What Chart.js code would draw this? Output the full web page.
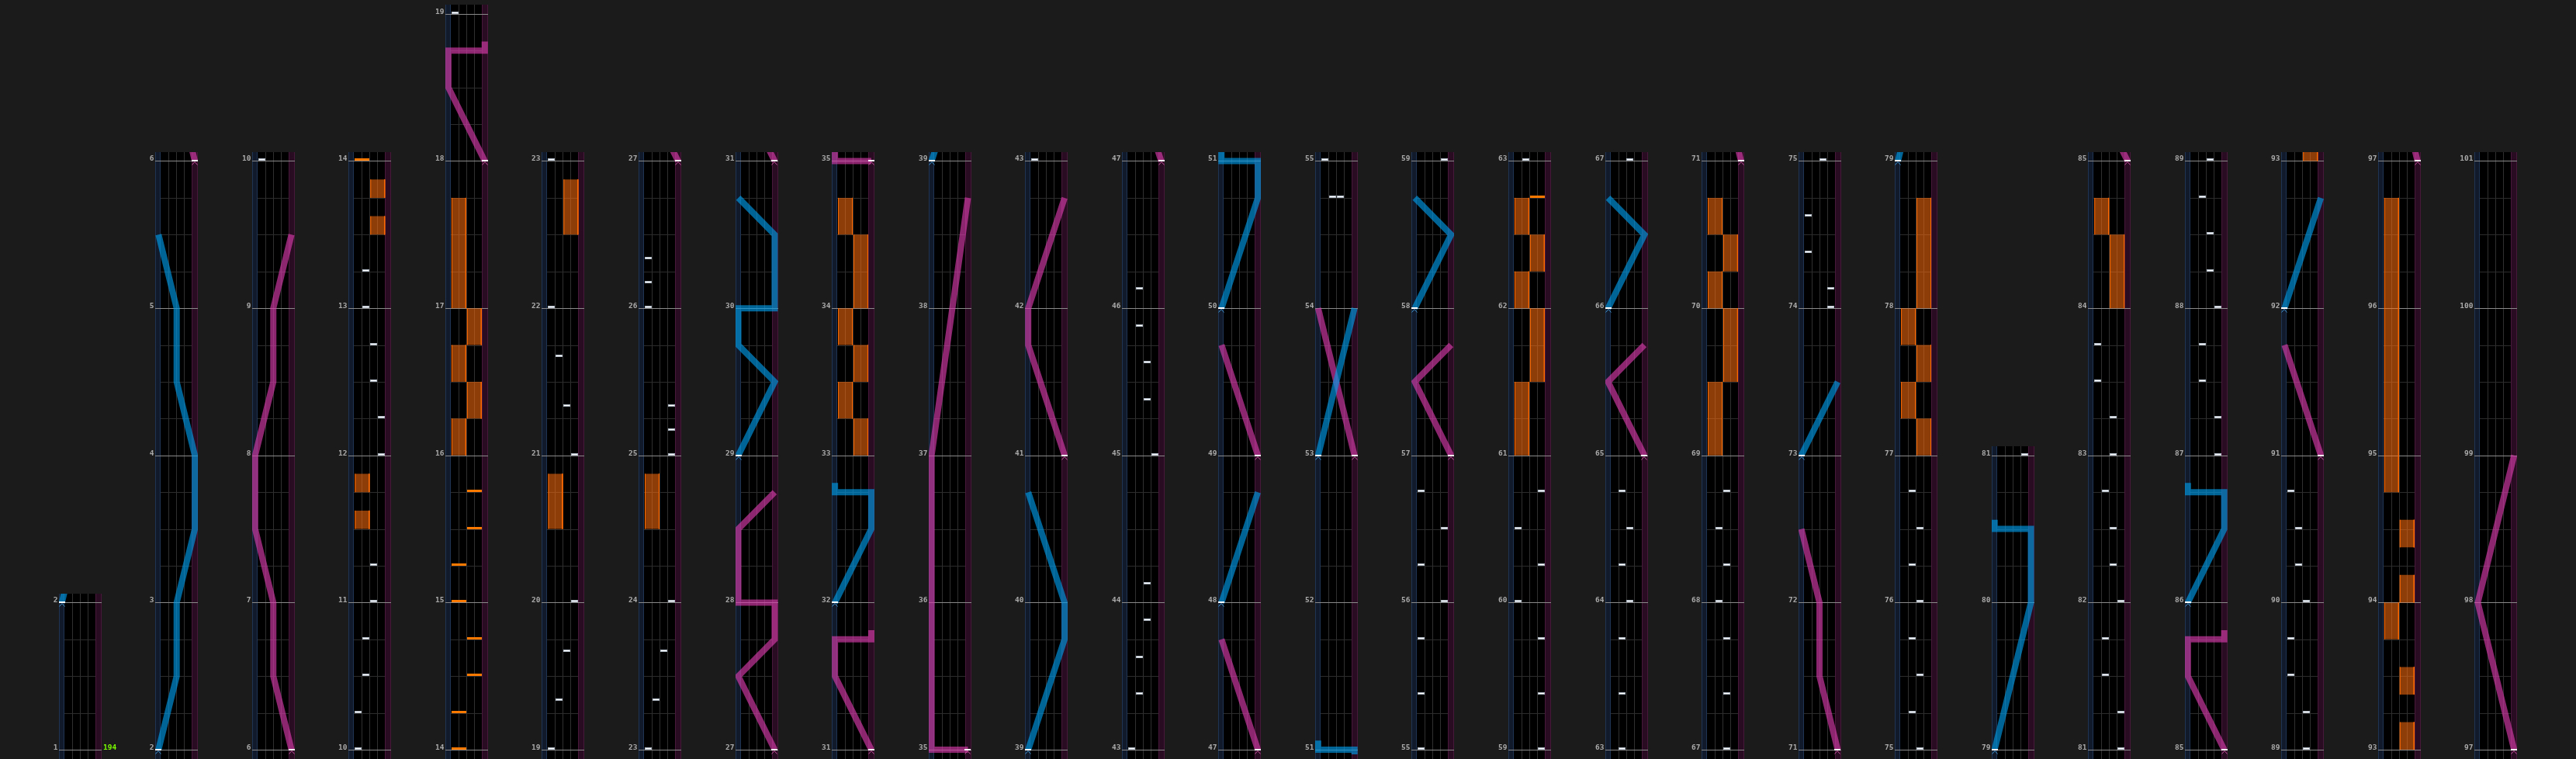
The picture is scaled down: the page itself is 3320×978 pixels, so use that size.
<!DOCTYPE html>
<html>
<head>
<meta charset="utf-8">
<style>
  html, body { margin: 0; padding: 0; background: #1b1b1b; }
  canvas { display: block; }
</style>
<script src="https://cdn.jsdelivr.net/npm/chart.js@4.4.1/dist/chart.umd.min.js"></script>
</head>
<body>
<canvas id="chart" width="3320" height="978"></canvas>
<script>
// columns of the chart view: first measure and number of measures in it
const columnStart    = [1, 2, 6, 10, 14, 19, 23, 27, 31, 35, 39, 43, 47, 51, 55, 59, 63, 67, 71, 75, 79, 81, 85, 89, 93, 97];
const columnMeasures = [1, 4, 4, 4,  5,  4,  4,  4,  4,  4,  4,  4,  4,  4,  4,  4,  4,  4,  4,  4,  2,  4,  4,  4,  4,  4];

// [measure, bpm]
const bpmMarks = [[1, 194]];

// BT chips: [time in measures, lane 0..3]
const btNotes = [
  [10, 0], [10.25, 0], [10.5, 1], [10.75, 1], [11, 2], [11.25, 2],
  [12, 3], [12.25, 3], [12.5, 2], [12.75, 2], [13, 1], [13.25, 1],
  [19, 0], [19.333, 1], [19.667, 2], [20, 3], [21, 3], [21.333, 2], [21.667, 1], [22, 0],
  [23, 0], [23.333, 1], [23.667, 2], [24, 3], [25, 3], [25.167, 3], [25.333, 3],
  [26, 0], [26.167, 0], [26.333, 0],
  [43, 0], [43.375, 1], [43.625, 1], [43.875, 2], [44.125, 2],
  [45, 3], [45.375, 2], [45.625, 2], [45.875, 1], [46.125, 1],
  [54.75, 1], [54.75, 2],
  [55, 0], [55.375, 0], [55.75, 0], [56, 3], [56.25, 0], [56.5, 3], [56.75, 0],
  [59, 3], [59.375, 3], [59.75, 3], [60, 0], [60.25, 3], [60.5, 0], [60.75, 3],
  [63, 1], [63.375, 1], [63.75, 1], [64, 2], [64.25, 1], [64.5, 2], [64.75, 1],
  [67, 2], [67.375, 2], [67.75, 2], [68, 1], [68.25, 2], [68.5, 1], [68.75, 2],
  [74, 3], [74.125, 3], [74.375, 0], [74.625, 0],
  [75, 2], [75.25, 1], [75.5, 2], [75.75, 1], [76, 2], [76.25, 1], [76.5, 2], [76.75, 1],
  [81, 3], [81.25, 3], [81.5, 1], [81.75, 1], [82, 3], [82.25, 2], [82.5, 2], [82.75, 1],
  [83, 2], [83.25, 2], [83.5, 0], [83.75, 0],
  [87, 3], [87.25, 3], [87.5, 1], [87.75, 1], [88, 3], [88.25, 2], [88.5, 2], [88.75, 1],
  [89, 2], [89.25, 2], [89.5, 0], [89.75, 0], [90, 2], [90.25, 1], [90.5, 1], [90.75, 0]
];

// FX chips: [time, side 0 = left, 1 = right]
const fxChips = [
  [14, 0], [14.25, 0], [14.5, 1], [14.75, 1], [15, 0], [15.25, 0], [15.5, 1], [15.75, 1],
  [62.75, 1]
];

// FX holds: [start, end, side]
const fxHolds = [
  [11.5, 11.625, 0], [11.75, 11.875, 0],
  [13.5, 13.625, 1], [13.75, 13.875, 1],
  [16, 16.25, 0], [16.25, 16.5, 1], [16.5, 16.75, 0], [16.75, 17, 1], [17, 17.75, 0],
  [20.5, 20.875, 0], [22.5, 22.875, 1], [24.5, 24.875, 0],
  [33, 33.25, 1], [33.25, 33.5, 0], [33.5, 33.75, 1], [33.75, 34, 0], [34, 34.5, 1], [34.5, 34.75, 0],
  [61, 61.5, 0], [61.5, 62, 1], [62, 62.25, 0], [62.25, 62.5, 1], [62.5, 62.75, 0],
  [69, 69.5, 0], [69.5, 70, 1], [70, 70.25, 0], [70.25, 70.5, 1], [70.5, 70.75, 0],
  [77, 77.25, 1], [77.25, 77.5, 0], [77.5, 77.75, 1], [77.75, 78, 0], [78, 78.75, 1],
  [84, 84.5, 1], [84.5, 84.75, 0],
  [93, 93.1875, 1], [93.375, 93.5625, 1], [93.75, 94, 0], [94, 94.1875, 1],
  [94.375, 94.5625, 1], [94.75, 96.75, 0]
];

// lasers: list of [time, position 0..1]
const blueLasers = [
  [[2, 0], [2.5, 0.5], [3, 0.5], [3.5, 1], [4, 1], [4.5, 0.5], [5, 0.5], [5.5, 0]],
  [[29, 0], [29.5, 1], [29.75, 0], [30, 0], [30, 1], [30.5, 1], [30.75, 0]],
  [[32, 0], [32.5, 1], [32.75, 1], [32.75, 0], [32.8125, 0]],
  [[39, 0], [39.75, 1], [40, 1], [40.75, 0]],
  [[48, 0], [48.75, 1]],
  [[50, 0], [50.75, 1], [51, 1], [51, 0], [51.0625, 0]],
  [[53, 0], [54, 1]],
  [[58, 0], [58.5, 1], [58.75, 0]],
  [[66, 0], [66.5, 1], [66.75, 0]],
  [[73, 0], [73.5, 1]],
  [[79, 0], [80, 1], [80.5, 1], [80.5, 0], [80.5625, 0]],
  [[86, 0], [86.5, 1], [86.75, 1], [86.75, 0], [86.8125, 0]],
  [[92, 0], [92.75, 1]]
];
const pinkLasers = [
  [[6, 1], [6.5, 0.5], [7, 0.5], [7.5, 0], [8, 0], [8.5, 0.5], [9, 0.5], [9.5, 1]],
  [[18, 1], [18.5, 0], [18.75, 0], [18.75, 1], [18.8125, 1]],
  [[27, 1], [27.5, 0], [27.75, 1], [28, 1], [28, 0], [28.5, 0], [28.75, 1]],
  [[31, 1], [31.5, 0], [31.75, 0], [31.75, 1], [31.8125, 1]],
  [[35, 1], [35, 0], [37, 0], [38.75, 1]],
  [[41, 1], [41.75, 0], [42, 0], [42.75, 1]],
  [[47, 1], [47.75, 0]],
  [[49, 1], [49.75, 0]],
  [[53, 1], [54, 0]],
  [[57, 1], [57.5, 0], [57.75, 1]],
  [[65, 1], [65.5, 0], [65.75, 1]],
  [[71, 1], [71.5, 0.5], [72, 0.5], [72.5, 0]],
  [[85, 1], [85.5, 0], [85.75, 0], [85.75, 1], [85.8125, 1]],
  [[91, 1], [91.75, 0]],
  [[97, 1], [98, 0], [99, 1]]
];

// layout (pixels)
const PITCH = 125, COL_W = 55, LEFT_MARGIN = 70;
const MEASURE_PX = 192, BOTTOM_MARGIN = 6, CANVAS_W = 3320, CANVAS_H = 978;
const LANE_W = 10, TOP_EXTRA = 1 / 16;

const colX = (c, px) => c + px / PITCH;
const laserX = (c, pos) => colX(c, 4 + 47 * pos);
const laneX = (c, lane) => colX(c, 12.5 + LANE_W * lane);
const fxX = (c, side) => colX(c, 17.5 + 2 * LANE_W * side);

function sprite(w, h, draw) {
  const cv = document.createElement('canvas');
  cv.width = w;
  cv.height = h;
  draw(cv.getContext('2d'));
  return cv;
}
const btSprite = sprite(9, 10, g => {
  g.fillStyle = '#aeb8c4';
  g.fillRect(0, 2, 9, 3);
  g.fillStyle = '#ffffff';
  g.fillRect(1, 3, 7, 1);
});
const fxSprite = sprite(19, 8, g => {
  g.fillStyle = '#ff7800';
  g.fillRect(0, 1, 19, 3);
});
const startSprite = color => sprite(10, 12, g => {
  g.fillStyle = '#ffffff';
  g.fillRect(1, 5, 8, 2);
  g.strokeStyle = color;
  g.lineWidth = 1;
  g.beginPath();
  g.moveTo(1.5, 11.5);
  g.lineTo(5, 7.5);
  g.lineTo(8.5, 11.5);
  g.stroke();
});
const blueStart = startSprite('#3f93cc');
const pinkStart = startSprite('#c4519e');

const inWindow = (c, t0, t1) => {
  const s = columnStart[c], n = columnMeasures[c];
  return t1 >= s - 0.04 && t0 <= s + n + 0.07;
};

const datasets = [];
columnStart.forEach((s, c) => {
  // lasers
  [[blueLasers, 'rgba(0,155,230,0.65)', blueStart], [pinkLasers, 'rgba(215,60,170,0.65)', pinkStart]]
    .forEach(([lasers, color, marker]) => {
      const pts = [], starts = [];
      lasers.forEach(laser => {
        if (!inWindow(c, laser[0][0], laser[laser.length - 1][0])) return;
        if (pts.length) pts.push({x: c, y: null});
        laser.forEach(([t, pos]) => pts.push({x: laserX(c, pos), y: t - s}));
        starts.push({x: laserX(c, laser[0][1]), y: laser[0][0] - s});
      });
      if (!pts.length) return;
      datasets.push({
        type: 'line', column: c, data: pts, order: 2,
        borderColor: color, borderWidth: 8, borderJoinStyle: 'miter',
        pointRadius: 0, tension: 0, spanGaps: false, fill: false
      });
      datasets.push({
        type: 'scatter', column: c, data: starts, order: 0,
        pointStyle: marker, pointRadius: 5, pointHoverRadius: 5
      });
    });

  // fx holds
  const fills = [], edges = [];
  fxHolds.forEach(([t0, t1, side]) => {
    if (!inWindow(c, t0, t1)) return;
    const xc = fxX(c, side);
    const xl = colX(c, 8.5 + 2 * LANE_W * side), xr = colX(c, 26.5 + 2 * LANE_W * side);
    if (fills.length) {
      fills.push({x: xc, y: null});
      edges.push({x: xl, y: null});
    }
    fills.push({x: xc, y: t0 - s}, {x: xc, y: t1 - s});
    edges.push({x: xl, y: t0 - s}, {x: xl, y: t1 - s}, {x: xl, y: null},
               {x: xr, y: t1 - s}, {x: xr, y: t0 - s});
  });
  if (fills.length) {
    datasets.push({
      type: 'line', column: c, data: fills, order: 4,
      borderColor: 'rgba(255,112,15,0.55)', borderWidth: 19, borderCapStyle: 'butt',
      pointRadius: 0, tension: 0, spanGaps: false, fill: false
    });
    datasets.push({
      type: 'line', column: c, data: edges, order: 3,
      borderColor: '#ff6a00', borderWidth: 1,
      pointRadius: 0, tension: 0, spanGaps: false, fill: false
    });
  }

  // chips
  const fxPts = fxChips.filter(([t]) => inWindow(c, t, t)).map(([t, side]) => ({x: fxX(c, side), y: t - s}));
  if (fxPts.length) {
    datasets.push({type: 'scatter', column: c, data: fxPts, order: 1,
      pointStyle: fxSprite, pointRadius: 5, pointHoverRadius: 5});
  }
  const btPts = btNotes.filter(([t]) => inWindow(c, t, t)).map(([t, lane]) => ({x: laneX(c, lane), y: t - s}));
  if (btPts.length) {
    datasets.push({type: 'scatter', column: c, data: btPts, order: 1,
      pointStyle: btSprite, pointRadius: 5, pointHoverRadius: 5});
  }
});

function columnBox(chart, c) {
  const {x, y} = chart.scales;
  const left = Math.round(x.getPixelForValue(c));
  const top = Math.round(y.getPixelForValue(columnMeasures[c] + TOP_EXTRA));
  return {left, top, bottom: chart.height};
}

// draws the columns, lanes and measure grid before the notes
const gridPlugin = {
  id: 'columnGrid',
  beforeDraw(chart) {
    const ctx = chart.ctx;
    ctx.save();
    ctx.fillStyle = '#1b1b1b';
    ctx.fillRect(0, 0, chart.width, chart.height);
    ctx.restore();
  },
  beforeDatasetsDraw(chart) {
    const {ctx, scales: {y}} = chart;
    ctx.save();
    ctx.imageSmoothingEnabled = false;
    columnStart.forEach((s, c) => {
      const n = columnMeasures[c];
      const {left, top, bottom} = columnBox(chart, c);
      const h = bottom - top;
      ctx.fillStyle = '#000';
      ctx.fillRect(left, top, COL_W, h);
      // laser tracks
      ctx.fillStyle = '#101a2b';
      ctx.fillRect(left, top, 7, h);
      ctx.fillStyle = '#1f3452';
      ctx.fillRect(left, top, 1, h);
      ctx.fillRect(left + 6, top, 1, h);
      ctx.fillStyle = '#290c21';
      ctx.fillRect(left + 47, top, 8, h);
      ctx.fillStyle = '#48183a';
      ctx.fillRect(left + 47, top, 1, h);
      ctx.fillRect(left + 54, top, 1, h);
      // lane dividers
      ctx.fillStyle = '#303030';
      for (let k = 1; k < 4; k++) ctx.fillRect(left + 7 + LANE_W * k, top, 1, h);
      // beat lines
      for (let q = 0; q <= n * 4; q++) {
        const py = Math.round(y.getPixelForValue(q / 4));
        if (q % 4 === 0) {
          ctx.fillStyle = '#8a8a8a';
          ctx.fillRect(left, py, COL_W, 1);
        } else {
          ctx.fillStyle = '#2c2c2c';
          ctx.fillRect(left + 7, py, 4 * LANE_W, 1);
        }
      }
    });
    ctx.restore();
  },
  afterDatasetsDraw(chart) {
    const {ctx, scales: {y}} = chart;
    ctx.save();
    ctx.font = 'bold 9.5px "DejaVu Sans Mono", monospace';
    ctx.textBaseline = 'alphabetic';
    columnStart.forEach((s, c) => {
      const {left} = columnBox(chart, c);
      ctx.fillStyle = '#aaaaaa';
      ctx.textAlign = 'right';
      for (let m = 0; m <= columnMeasures[c]; m++) {
        const py = Math.round(y.getPixelForValue(m));
        ctx.fillText(String(s + m), left - 1.5, py);
      }
      bpmMarks.forEach(([measure, bpm]) => {
        if (measure < s || measure >= s + columnMeasures[c]) return;
        ctx.fillStyle = '#7cfc00';
        ctx.textAlign = 'left';
        ctx.fillText(String(bpm), left + COL_W + 2, Math.round(y.getPixelForValue(measure - s)));
      });
    });
    ctx.restore();
  }
};

// each dataset belongs to one column and is clipped to it
const columnClip = {
  id: 'columnClip',
  beforeDatasetDraw(chart, args) {
    const ds = chart.data.datasets[args.index];
    const ctx = chart.ctx;
    const {left, top, bottom} = columnBox(chart, ds.column);
    ctx.save();
    ctx.imageSmoothingEnabled = false;
    ctx.beginPath();
    ctx.rect(left, top, COL_W, bottom - top);
    ctx.clip();
  },
  afterDatasetDraw(chart) {
    chart.ctx.restore();
  }
};

new Chart(document.getElementById('chart'), {
  type: 'scatter',
  data: { datasets },
  options: {
    responsive: false,
    devicePixelRatio: 1,
    animation: false,
    events: [],
    layout: { padding: 0 },
    scales: {
      x: { type: 'linear', display: false,
           min: -LEFT_MARGIN / PITCH, max: (CANVAS_W - LEFT_MARGIN) / PITCH },
      y: { type: 'linear', display: false, stacked: false,
           min: -BOTTOM_MARGIN / MEASURE_PX, max: (CANVAS_H - BOTTOM_MARGIN) / MEASURE_PX }
    },
    plugins: {
      legend: { display: false },
      tooltip: { enabled: false }
    }
  },
  plugins: [gridPlugin, columnClip]
});
</script>
</body>
</html>
